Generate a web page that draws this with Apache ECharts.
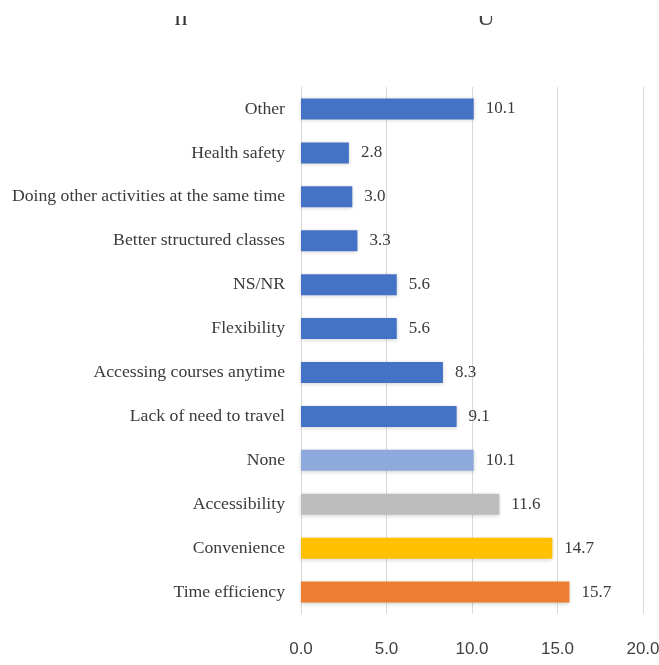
<!DOCTYPE html>
<html>
<head>
<meta charset="utf-8">
<script src="https://cdn.jsdelivr.net/npm/echarts@6/dist/echarts.min.js"></script>
<style>
html,body{margin:0;padding:0;background:#fff;overflow:hidden;}
#chart{width:659px;height:665px;}
</style>
</head>
<body>
<div id="chart"></div>
<script>
// Data
const categories = [
  'Other',
  'Health safety',
  'Doing other activities at the same time',
  'Better structured classes',
  'NS/NR',
  'Flexibility',
  'Accessing courses anytime',
  'Lack of need to travel',
  'None',
  'Accessibility',
  'Convenience',
  'Time efficiency'
];
const values = [10.1, 2.8, 3.0, 3.3, 5.6, 5.6, 8.3, 9.1, 10.1, 11.6, 14.7, 15.7];
const xTicks = [0, 5, 10, 15, 20];

// Styles
const barColors = ['#4472C4','#4472C4','#4472C4','#4472C4','#4472C4','#4472C4','#4472C4','#4472C4',
                   '#8EA9DB','#BDBDBD','#FFC000','#ED7D31'];

const chart = echarts.init(document.getElementById('chart'), null, {renderer:'canvas'});
chart.setOption({
  backgroundColor:'#fff',
  animation:false,
  grid:{left:301, right:16, top:87, bottom:51, containLabel:false, outerBoundsMode:'none'},
  xAxis:{
    type:'value',
    min:xTicks[0], max:xTicks[xTicks.length-1], interval:5,
    axisLine:{show:false}, axisTick:{show:false},
    splitLine:{show:true, lineStyle:{color:'#d9d9d9', width:1}},
    axisLabel:{
      margin:27,
      color:'#404040',
      fontFamily:'Liberation Sans Narrow, Liberation Sans, sans-serif',
      fontSize:17,
      formatter:v=>v.toFixed(1)
    }
  },
  yAxis:{
    type:'category',
    data:categories,
    inverse:true,
    axisLine:{show:true, lineStyle:{color:'#d9d9d9', width:1}},
    axisTick:{show:false},
    axisLabel:{
      margin:16,
      color:'#3a3a3a',
      fontFamily:'Liberation Serif, serif',
      fontSize:17.7
    }
  },
  series:[{
    type:'bar',
    data:values.map((v,i)=>({value:v, itemStyle:{color:barColors[i]}})),
    barWidth:21,
    itemStyle:{shadowBlur:4, shadowColor:'rgba(0,0,0,0.18)', shadowOffsetY:1},
    label:{
      show:true, position:'right', distance:12,
      color:'#3a3a3a',
      fontFamily:'Liberation Serif, serif',
      fontSize:17,
      formatter:p=>p.value.toFixed(1)
    }
  }],
  graphic:[
    {type:'text', z:10, style:{text:'n', x:181, y:31, align:'center', verticalAlign:'bottom', fill:'#333', font:'26px Liberation Serif'}},
    {type:'text', z:10, style:{text:'U', x:486, y:31, align:'center', verticalAlign:'bottom', fill:'#444', font:'24px Liberation Serif'}},
    {type:'rect', z:20, shape:{x:0, y:0, width:659, height:16}, style:{fill:'#fff'}}
  ]
});
</script>
</body>
</html>
